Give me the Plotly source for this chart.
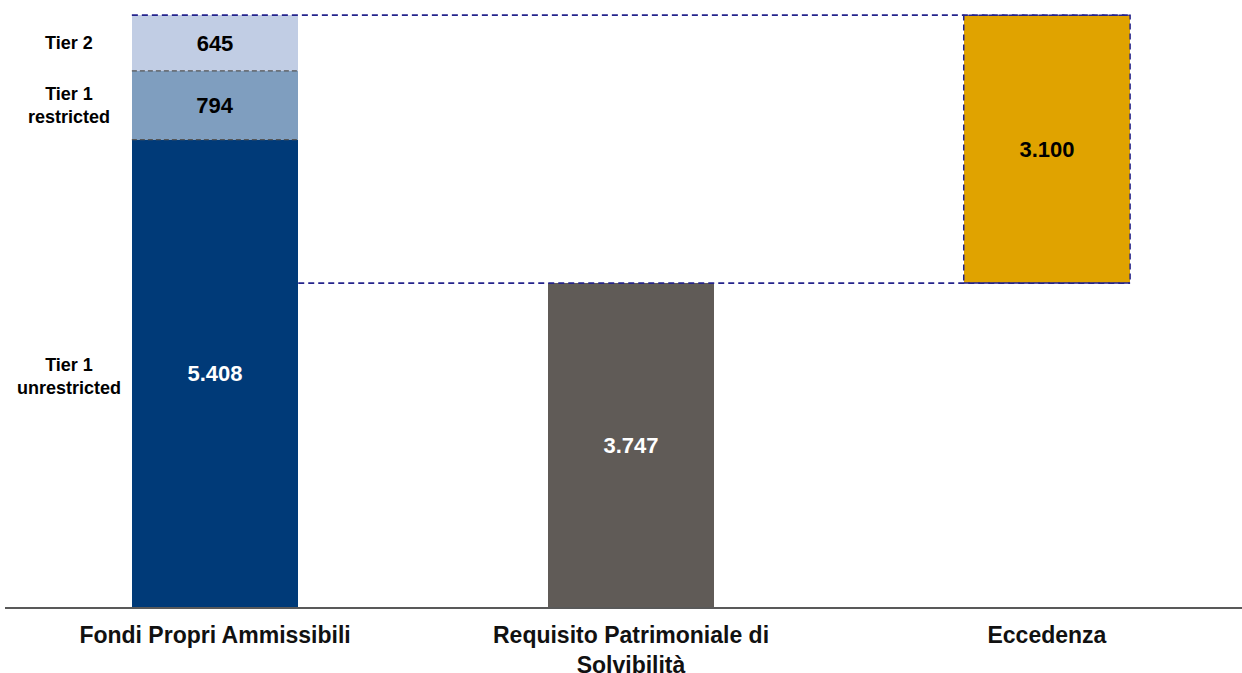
import plotly.graph_objects as go

categories = ["Fondi Propri Ammissibili", "Requisito Patrimoniale di<br>Solvibilità", "Eccedenza"]
tier1_unrestricted = 5408
tier1_restricted = 794
tier2 = 645
scr = 3747
eccedenza = 3100
tier_labels = ["Tier 1<br>unrestricted", "Tier 1<br>restricted", "Tier 2"]

def fmt(v):
    return f"{v:,}".replace(",", ".")

FONT = "Liberation Sans, Arial, sans-serif"
BW = 0.4
NAVY_DASH = "#24238C"

fig = go.Figure()
segments = [
    (tier1_unrestricted, "#003A78", "white"),
    (tier1_restricted, "#7F9EBF", "black"),
    (tier2, "#C1CDE4", "black"),
]
base = 0
for val, col, tcol in segments:
    fig.add_trace(go.Bar(
        x=[categories[0]], y=[val], base=[base], width=BW,
        marker=dict(color=col, line=dict(width=0)),
        text=[fmt(val)], textposition="inside", insidetextanchor="middle",
        textangle=0, textfont=dict(family=FONT, size=22, color=tcol, weight="bold"),
        showlegend=False, hoverinfo="skip",
    ))
    base += val
total = base

fig.add_trace(go.Bar(
    x=[categories[1]], y=[scr], base=[0], width=BW,
    marker=dict(color="#605B57", line=dict(width=0)),
    text=[fmt(scr)], textposition="inside", insidetextanchor="middle",
    textangle=0, textfont=dict(family=FONT, size=22, color="white", weight="bold"),
    showlegend=False, hoverinfo="skip",
))
fig.add_trace(go.Bar(
    x=[categories[2]], y=[eccedenza], base=[scr], width=BW,
    marker=dict(color="#E0A300", line=dict(width=0)),
    text=[fmt(eccedenza)], textposition="inside", insidetextanchor="middle",
    textangle=0, textfont=dict(family=FONT, size=22, color="black", weight="bold"),
    showlegend=False, hoverinfo="skip",
))

shapes = []
# stack dividers
for yv in [tier1_unrestricted, tier1_unrestricted + tier1_restricted]:
    shapes.append(dict(type="line", xref="x", yref="y", x0=-BW/2, x1=BW/2, y0=yv, y1=yv,
                       line=dict(color="#555555", width=1.3, dash="5px,3px")))
# connector lines
shapes.append(dict(type="line", xref="x", yref="y", x0=-BW/2, x1=2 + BW/2, y0=total, y1=total,
                   line=dict(color=NAVY_DASH, width=1.8, dash="6px,4px")))
shapes.append(dict(type="line", xref="x", yref="y", x0=BW/2, x1=2 + BW/2, y0=scr, y1=scr,
                   line=dict(color=NAVY_DASH, width=1.8, dash="6px,4px")))
# eccedenza dashed border
shapes.append(dict(type="rect", xref="x", yref="y", x0=2 - BW/2, x1=2 + BW/2, y0=scr, y1=scr + eccedenza,
                   line=dict(color=NAVY_DASH, width=1.5, dash="6px,4px"), fillcolor="rgba(0,0,0,0)"))

annotations = []
mids = [tier1_unrestricted / 2 - 40, tier1_unrestricted + tier1_restricted / 2,
        tier1_unrestricted + tier1_restricted + tier2 / 2]
for lab, ym in zip(tier_labels, mids):
    annotations.append(dict(x=-0.351, y=ym, xref="x", yref="y", text=lab, showarrow=False,
                            font=dict(family=FONT, size=18, color="black", weight="bold"),
                            xanchor="center", yanchor="middle", align="center"))

fig.update_layout(
    width=1242, height=673,
    margin=dict(l=5, r=0, t=13, b=66),
    paper_bgcolor="white", plot_bgcolor="white",
    shapes=shapes, annotations=annotations,
    barmode="overlay", bargap=0,
    xaxis=dict(type="category", range=[-0.505, 2.469], showline=True, linecolor="#595959",
               linewidth=1.5, showgrid=False, zeroline=False, ticks="", automargin=False,
               tickfont=dict(family=FONT, size=23, color="#111111", weight="bold"),
               ticklabelstandoff=7, fixedrange=True),
    yaxis=dict(range=[0, total + 25], visible=False, showgrid=False, zeroline=False,
               automargin=False, fixedrange=True),
)

fig.write_html("out.html", config={"displayModeBar": False},
               post_script="document.body.style.margin='0';document.body.style.overflow='hidden';")
